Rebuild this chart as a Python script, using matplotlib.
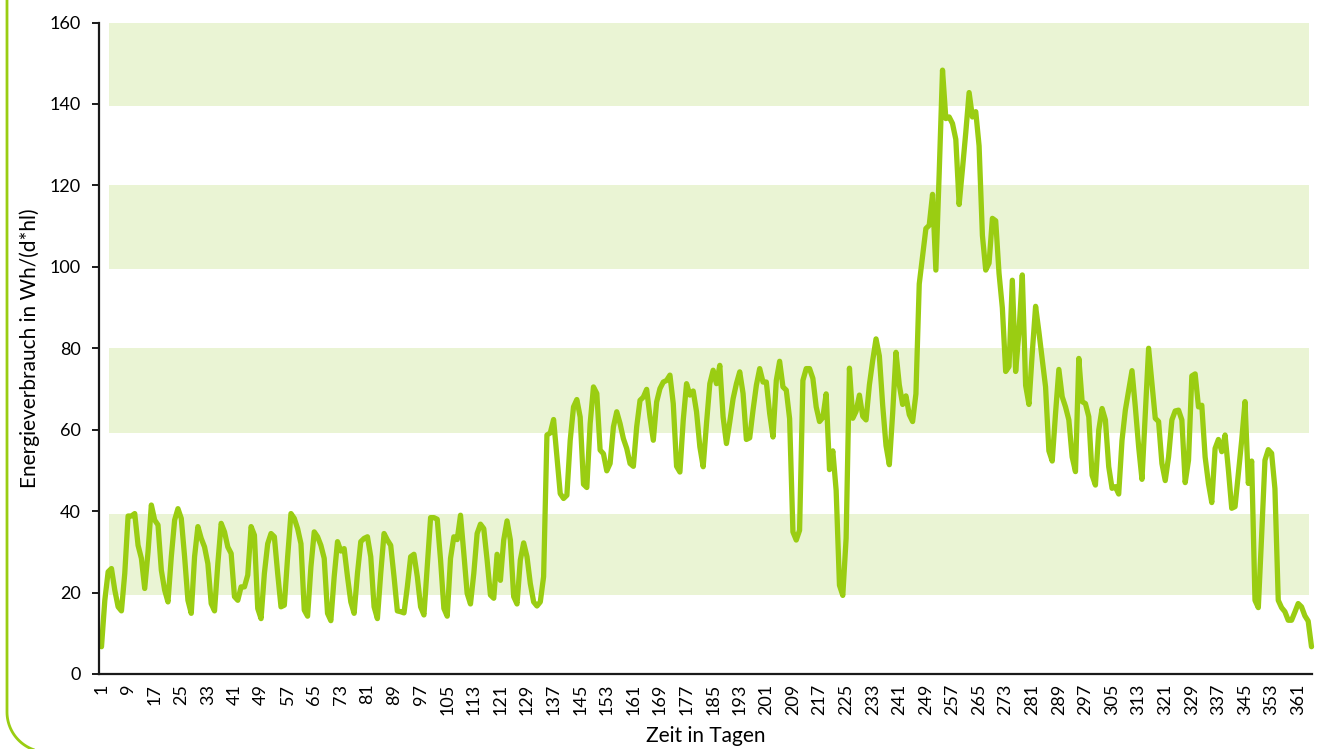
import numpy as np
import matplotlib
matplotlib.use("Agg")
import matplotlib.pyplot as plt
from matplotlib.path import Path
from matplotlib.patches import PathPatch

plt.rcParams['font.family'] = ['Lato', 'DejaVu Sans']

# Energieverbrauch je Tag (Wh/(d*hl)), Tag 1..365
verbrauch = [
    6.7, 18.1, 25.1, 25.9, 20.6, 16.5, 15.5, 24.7, 38.8, 38.8,
    39.4, 31.6, 28.4, 21.0, 30.0, 41.5, 37.8, 36.6, 25.5, 20.6,
    17.7, 28.8, 37.8, 40.6, 38.2, 28.8, 18.1, 14.9, 28.8, 36.2,
    33.3, 31.2, 27.1, 17.3, 15.5, 27.1, 37.0, 34.9, 31.2, 29.6,
    19.0, 18.1, 21.4, 21.4, 24.3, 36.2, 34.1, 16.1, 13.6, 24.7,
    32.0, 34.5, 33.7, 24.7, 16.5, 16.9, 28.8, 39.4, 38.2, 35.7,
    32.0, 15.7, 14.2, 26.3, 34.9, 33.7, 31.6, 28.4, 14.9, 13.1,
    23.9, 32.5, 30.2, 30.8, 23.9, 17.7, 14.9, 24.7, 32.5, 33.3,
    33.7, 28.8, 16.5, 13.6, 24.7, 34.5, 32.9, 31.6, 23.9, 15.5,
    15.3, 15.0, 21.4, 28.8, 29.4, 23.9, 16.5, 14.5, 26.3, 38.4,
    38.4, 38.0, 28.0, 16.1, 14.2, 28.4, 33.7, 33.0, 39.0, 29.6,
    19.8, 17.2, 24.7, 34.5, 36.8, 35.7, 28.0, 19.4, 18.6, 29.4,
    23.0, 32.9, 37.6, 32.9, 19.0, 17.2, 28.0, 32.2, 28.8, 22.2,
    17.7, 16.7, 17.7, 23.9, 58.7, 59.2, 62.5, 53.3, 44.3, 43.1,
    43.9, 57.4, 65.6, 67.4, 63.1, 46.6, 45.8, 61.5, 70.5, 68.9,
    55.0, 54.1, 49.9, 51.7, 60.7, 64.4, 61.5, 57.8, 55.4, 51.7,
    51.0, 60.7, 67.2, 68.0, 69.9, 63.1, 57.4, 66.8, 70.1, 71.7,
    72.1, 73.4, 66.4, 51.0, 49.6, 62.3, 71.3, 68.5, 69.5, 64.4,
    55.8, 50.9, 61.5, 71.3, 74.6, 71.3, 75.8, 63.1, 56.6, 61.9,
    67.6, 71.3, 74.2, 68.9, 57.6, 58.0, 64.8, 70.9, 75.0, 71.7,
    71.7, 64.0, 58.2, 72.1, 76.8, 70.5, 69.7, 62.7, 34.9, 32.9,
    35.3, 72.1, 75.0, 75.0, 72.6, 65.6, 62.0, 63.0, 68.8, 50.2,
    54.8, 45.1, 21.8, 19.3, 33.3, 75.1, 62.8, 64.5, 68.5, 63.3,
    62.4, 71.0, 77.0, 82.3, 78.1, 66.0, 56.1, 51.4, 64.0, 79.0,
    71.0, 66.2, 68.3, 63.7, 62.0, 68.8, 95.8, 102.5, 109.4, 110.2,
    117.8, 99.2, 123.0, 148.3, 136.4, 136.8, 135.2, 131.3, 115.3, 124.0,
    133.0, 142.8, 136.8, 138.1, 129.7, 107.7, 99.2, 100.9, 111.9, 111.3,
    98.4, 89.9, 74.3, 75.5, 96.7, 74.3, 84.0, 98.0, 70.9, 66.2,
    78.9, 90.3, 84.0, 77.2, 70.5, 54.8, 52.3, 64.0, 74.8, 68.1,
    65.6, 62.4, 53.3, 49.7, 77.5, 66.9, 66.4, 63.2, 48.8, 46.4,
    59.9, 65.2, 62.4, 50.9, 45.6, 46.0, 44.2, 57.4, 64.8, 69.7,
    74.5, 65.6, 55.8, 47.8, 64.0, 80.0, 71.4, 62.8, 62.0, 51.7,
    47.5, 53.3, 62.4, 64.6, 64.8, 62.4, 47.0, 52.5, 73.2, 73.7,
    65.6, 66.0, 53.3, 46.8, 42.1, 55.4, 57.6, 54.6, 58.7, 50.1,
    40.7, 41.1, 49.3, 57.4, 66.9, 46.8, 52.3, 18.1, 16.3, 34.0,
    52.5, 55.1, 54.2, 45.5, 18.1, 16.3, 15.3, 13.2, 13.2, 15.2,
    17.3, 16.5, 14.3, 13.0, 6.7,
]
tage = list(range(1, len(verbrauch) + 1))
x_ticks = list(range(1, 366, 8))
y_ticks = list(range(0, 161, 20))

gruen = '#9acd12'
band = '#eaf4d4'

fig = plt.figure(figsize=(13.35, 7.49), dpi=100)
ax = fig.add_axes([99 / 1335, 1 - 674 / 749, 1213 / 1335, 651.5 / 749])

# hellgruene Bänder
for lo, hi in [(19.3, 39.4), (59.3, 80.0), (99.5, 120.2), (139.5, 160.0)]:
    ax.axhspan(lo, hi, xmin=0.0082, xmax=0.9975, color=band, lw=0, zorder=0)

ax.plot(tage, verbrauch, color=gruen, lw=3.8, solid_joinstyle='round',
        solid_capstyle='round', zorder=3, clip_on=False)

ax.set_xlim(0.25, 365.15)
ax.set_ylim(0, 160)
ax.set_xticks(x_ticks)
ax.set_xticklabels([str(t) for t in x_ticks], rotation=90)
ax.set_yticks(y_ticks)

for s in ['top', 'right']:
    ax.spines[s].set_visible(False)
for s in ['left', 'bottom']:
    ax.spines[s].set_linewidth(1.6)
    ax.spines[s].set_color('#1a1a1a')
    ax.spines[s].set_zorder(4)

ax.tick_params(axis='y', length=5, width=1.4, color='#1a1a1a', pad=8, labelsize=13)
ax.tick_params(axis='x', length=0, pad=7, labelsize=13)

ax.set_ylabel('Energieverbrauch in Wh/(d*hl)', fontsize=15)
ax.yaxis.set_label_coords(-0.049, 0.5)
ax.set_xlabel('Zeit in Tagen', fontsize=15)
ax.xaxis.set_label_coords(0.5, -0.08)

# gruener Rahmen links mit runder Ecke
r = 40
w, h = 1335.0, 749.0
ang = np.linspace(np.pi, 1.5 * np.pi, 30)
px = [7.0, 7.0] + list(7 + r + r * np.cos(ang))
py = [0.0, 752 - r] + list(752 - r - r * np.sin(ang))
verts = [(a / w, 1 - b / h) for a, b in zip(px, py)]
rahmen = PathPatch(Path(verts), transform=fig.transFigure, fill=False,
                   edgecolor=gruen, lw=2.0)
fig.add_artist(rahmen)

fig.savefig('out.png', dpi=100)
